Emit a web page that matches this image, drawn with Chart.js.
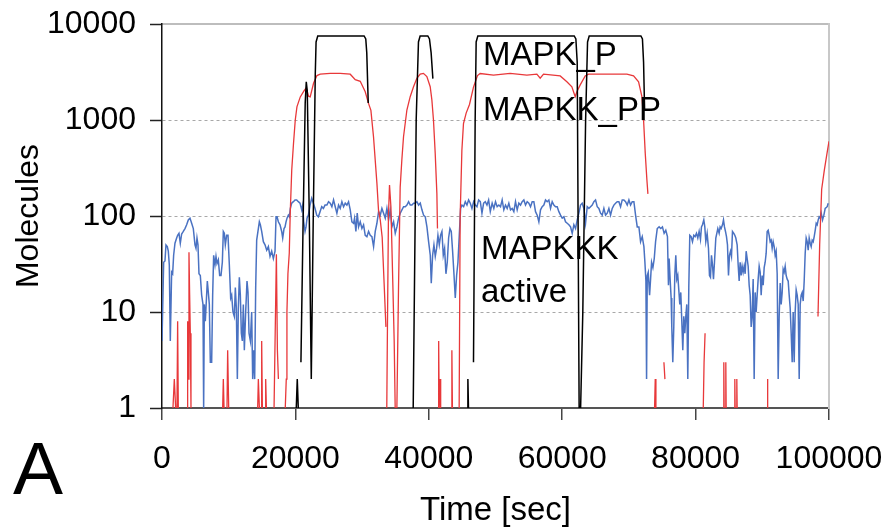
<!DOCTYPE html>
<html>
<head>
<meta charset="utf-8">
<title>MAPK cascade simulation</title>
<script src="https://cdn.jsdelivr.net/npm/chart.js@4.4.1/dist/chart.umd.min.js"></script>
<style>
    html, body { margin: 0; padding: 0; background: #fff; }
    #wrap { position: relative; width: 888px; height: 529px; }
</style>
</head>
<body>
<div id="wrap"><canvas id="mapkChart"></canvas></div>
<script>
/* Axis ticks */

const xTicks = [0, 20000, 40000, 60000, 80000, 100000];
const yTicks = [1, 10, 100, 1000, 10000];

/* MAPK_P (black) - null = zero molecules, not drawn on log axis */

const mapkPTime = [
    20130, 20280, 20430, 20600,
    20830, 21170, 21470, 21630, 21780, 22080, 22380, 22680, 22980, 23100, 23350, 30300, 30550, 30700, 30920, 31000,
    37660, 37810, 38110, 38450, 38700, 39850, 40100, 40350, 40610, 40700,
    45750, 45860, 45950, 46300,
    46700, 46950, 47100, 47350, 61800, 62050, 62250, 62540, 62760, 63090, 63510, 63800, 64050, 71800, 72030, 72200, 72350, 72450
];
const mapkPValues = [
    1, 2, 1, null,
    3, 100, 1500, 2500, 2000, 100, 2, 100, 3000, 6500, 7500, 7500, 7000, 5000, 1500, null,
    1, 10, 1000, 6500, 7500, 7500, 7000, 5000, 2700, null,
    1, 2, 1, null,
    3, 1000, 6500, 7500, 7500, 7000, 4000, 1, 1, 10, 1000, 6500, 7500, 7500, 7000, 4000, 1300, null
];

/* MAPKK_PP (red) */

const mapkkPPTime = [
    1645, 1845, 2045, 2150, 2245, 2345, 2445, 2500,
    3795, 3845, 3945, 4045, 4145, 4245, 4345, 4400,
    9095, 9195, 9300, 9400, 9745, 9845, 10000, 10100,
    14345, 14445, 14600, 14700, 14880, 14945, 15050, 15200, 15470, 15545, 15650, 15750,
    16800, 17150, 17300, 17450, 17500,
    18480, 18630, 18730, 18880, 19080, 19230, 19450, 19720, 19980, 20230,
    20730, 21330, 21630, 21970, 22220, 22720, 23230, 23720, 25220, 26720,
    28220, 28970, 29720, 30470, 30960, 31320, 31710, 32220, 32460, 32720,
    33010, 33300, 33570, 33650,
    33700, 33800, 33950, 34110, 34320, 34620, 34810, 34960, 35215, 35460,
    35710, 35960, 36210, 36715, 37210, 37710, 38210, 38710, 39200, 39710,
    40210, 40460, 40700, 40960, 41210, 41300, 41350,
    41400, 41480, 41560, 41650, 41700, 41780, 41850,
    43380, 43460, 43540, 43600,
    44550, 44700, 44960, 45200, 45600, 46100, 46700, 47300, 47700, 49700,
    52200, 54700, 56200, 56700, 57200, 59700, 60700, 61450, 61950, 62200,
    62700, 63450, 63950, 67200, 69700, 70700, 71450, 71950, 72200, 72450,
    72700, 72850, 72900,
    73850, 73950, 74050, 74100,
    75250, 75400, 75450,
    81150, 81270, 81420, 81450,
    84180, 84230, 84280, 84380, 84480, 84530, 84580, 84650,
    85830, 85880, 85930, 86000, 86130, 86180, 86230, 86300,
    90730, 90780, 90830, 90900,
    98350, 98600, 98900, 99300, 99700, 100000
];
const mapkkPPValues = [
    1, 2, 1, null, 1, 8, 1, null,
    1, 8, 2, 42, 15, 6, 1, null,
    1, 2, 1, null, 1, 4, 1, null,
    1, 2, 1, null, 1, 5, 1, null, 1, 2, 1, null,
    1, 40, 4, 2, null,
    1, 2, 10, 25, 41, 110, 300, 575, 1000, 1370,
    1740, 2030, 2160, 1770, 1740, 2410, 2900, 3000, 3060, 3060,
    3000, 2630, 2530, 1970, 1490, 1260, 670, 220, 115, 91,
    60, 20, 7, null,
    1, 7, 100, 210, 125, 18, 5, 1, 1, 18,
    200, 385, 670, 1270, 1750, 2220, 2720, 3000, 3060, 2830,
    2220, 1620, 1000, 450, 172, 74, null,
    1, 5, 1, 1, 2, 1, null,
    1, 4, 1, null,
    1, 98, 485, 920, 1180, 1450, 2200, 2900, 3050, 2940,
    3060, 2940, 3000, 2720, 3000, 2880, 2500, 2220, 1750, 1970,
    2320, 2880, 3000, 3000, 3000, 2880, 2500, 1750, 1000, 450,
    237, 170, null,
    1, 2, 1, null,
    3, 2, null,
    1, 3, 6, null,
    1, 3, 1, null, 1, 3, 1, null,
    1, 2, 1, null, 1, 2, 1, null,
    1, 2, 1, null,
    9, 50, 190, 300, 450, 600
];

/* MAPKKK active (blue) */

const mapkkkTime = [
    0, 250, 445, 595, 795, 945, 1095, 1245, 1445, 1595,
    1745, 1945, 2195, 2345, 2545, 2745, 2945, 3195, 3445, 3695,
    3945, 4195, 4445, 4695, 4945, 5095, 5245, 5395, 5545, 5745,
    5945, 6145, 6245, 6345, 6495, 6645, 6795, 6945, 7095, 7245,
    7445, 7595, 7745, 7945, 8095, 8245, 8445, 8645, 8845, 9045,
    9195, 9345, 9495, 9695, 9895, 10095, 10295, 10445, 10645, 10845,
    10995, 11145, 11295, 11445, 11595, 11745, 11895, 12045, 12195, 12345,
    12545, 12745, 12895, 13045, 13245, 13445, 13595, 13745, 13895, 14045,
    14195, 14445, 14595, 14745, 14945, 15195, 15445, 15695, 15945, 16195,
    16445, 16695, 16945, 17095, 17245, 17445, 17695, 17945, 18095, 18295,
    18445, 18595, 18745, 18945, 19095, 19245, 19445, 19695, 19945, 20195,
    20445, 20695, 20945, 21095, 21245, 21445, 21595, 21745, 21945, 22195,
    22445, 22695, 22945, 23195, 23445, 23695, 23945, 24195, 24445,
    24720, 24970, 25220, 25470, 25720, 25970, 26220, 26470, 26720, 26970,
    27220, 27470, 27720, 27970, 28220, 28470, 28720, 28870, 29070, 29270,
    29470, 29720, 29970, 30220, 30470, 30720, 30970, 31220, 31470, 31720,
    31970, 32220, 32470, 32720, 32970, 33220, 33470, 33720, 33970, 34220,
    34470, 34720, 34970, 35220, 35470, 35720, 35970, 36220, 36470, 36720,
    36970, 37220, 37470, 37720, 37970, 38220, 38470, 38720, 38970, 39220,
    39470, 39720, 39970, 40220, 40370, 40570, 40770, 40970, 41170, 41370,
    41570, 41770, 41970, 42170, 42370, 42570, 42770, 42970, 43170, 43370,
    43570, 43770, 43970, 44170, 44370, 44570, 44770, 44970, 45220, 45470,
    45720, 45970, 46220, 46470, 46720, 46970, 47220, 47470, 47720, 47970,
    48220, 48470, 48720, 48970, 49220,
    49500, 49750, 50000, 50250, 50500, 50750, 51000, 51250, 51500, 51750,
    52000, 52250, 52500, 52750, 53000, 53250, 53500, 53750, 54000, 54250,
    54500, 54750, 55000, 55250, 55500, 55750, 56000, 56250, 56500, 56750,
    57000, 57250, 57500, 57750, 58000, 58250, 58500, 58750, 59000, 59250,
    59500, 59750, 60000, 60250, 60500, 60750, 61000, 61250, 61500, 61750,
    62000, 62250, 62500, 62750, 63000, 63250, 63500, 63750, 64000, 64250,
    64500, 64750, 65000, 65250, 65500, 65750, 66000, 66250, 66500, 66750,
    67000, 67250, 67500, 67750, 68000, 68250, 68500, 68750, 69000, 69250,
    69500, 69750, 70000, 70250, 70500, 70750, 71000, 71250, 71500, 71750,
    72000, 72250, 72400, 72550, 72650, 72750, 72900, 73100, 73250, 73400,
    73600, 73800, 74000, 74250,
    74530, 74780, 75030, 75280, 75530, 75780, 75930, 76030, 76180, 76330,
    76430, 76580, 76730, 76880, 77030, 77180, 77330, 77480, 77630, 77780,
    77930, 78080, 78230, 78380, 78530, 78680, 78830, 78980, 79130, 79330,
    79530, 79730, 79930, 80130, 80330, 80530, 80730, 80880, 81030, 81230,
    81380, 81530, 81730, 81930, 82080, 82230, 82380, 82530, 82680, 82830,
    83030, 83180, 83330, 83530, 83680, 83830, 84030, 84180, 84330, 84480,
    84630, 84780, 84930, 85080, 85230, 85380, 85530, 85730, 85880, 86030,
    86230, 86380, 86530, 86680, 86830, 86980, 87130, 87280, 87430, 87580,
    87730, 87880, 88030, 88180, 88330, 88480, 88630, 88780, 88930, 89080,
    89230, 89380, 89530, 89680, 89830, 89980, 90130, 90280, 90430, 90580,
    90730, 90880, 91030, 91180, 91330, 91480, 91630, 91780, 91930, 92080,
    92230, 92380, 92530, 92680, 92830, 92980, 93130, 93280, 93430, 93580,
    93730, 93880, 94030, 94180, 94330, 94480, 94630, 94780, 94930, 95080,
    95230, 95380, 95530, 95680, 95830, 95980, 96130, 96280, 96430, 96580,
    96730, 96880, 97030, 97180, 97330, 97480, 97630, 97780, 97930, 98080,
    98230, 98380, 98530, 98680, 98830, 99030, 99230, 99430, 99730, 99880
];
const mapkkkValues = [
    5, 33, 34, 50, 48, 43, 31, 5, 26, 25,
    39, 52, 59, 63, 66, 52, 65, 69, 74, 81,
    91, 95, 84, 74, 50, 46, 59, 50, 25, 24,
    15, 12, 1, 12, 8, 13, 21, 16, 12, 3,
    3, 15, 39, 31, 38, 32, 35, 24, 24, 33,
    69, 66, 50, 63, 63, 31, 14, 15, 10, 9,
    18, 11, 2, 11, 23, 15, 6, 5, 12, 4,
    10, 21, 16, 6, 5, 10, 2, 4, 2, 18,
    56, 74, 87, 81, 69, 54, 50, 44, 48, 38,
    43, 36, 43, 98, 98, 87, 81, 69, 59, 74,
    77, 87, 95, 102, 98, 120, 136, 141, 147, 147,
    141, 136, 116, 130, 87, 69, 77, 95, 102, 130,
    153, 136, 120, 102, 98, 111, 125, 120, 130,
    130, 141, 136, 125, 147, 125, 107, 130, 120, 141,
    125, 136, 130, 141, 116, 87, 84, 95, 69, 107,
    77, 87, 74, 81, 63, 61, 69, 63, 61, 48,
    69, 84, 111, 102, 120, 107, 95, 120, 91, 116,
    77, 87, 66, 77, 95, 107, 116, 125, 125, 130,
    141, 130, 130, 136, 136, 141, 130, 136, 116, 102,
    98, 77, 54, 39, 20, 39, 50, 38, 46, 63,
    50, 63, 69, 39, 46, 25, 33, 59, 74, 69,
    43, 25, 14, 24, 33, 63, 120, 130, 125, 141,
    130, 147, 136, 120, 141, 130, 125, 147, 141, 107,
    136, 141, 130, 147, 111,
    136, 120, 141, 125, 130, 125, 147, 116, 130, 120,
    136, 116, 120, 111, 141, 116, 136, 130, 141, 147,
    130, 141, 136, 125, 141, 141, 111, 102, 87, 116,
    125, 130, 147, 141, 147, 120, 141, 130, 125, 125,
    111, 102, 95, 98, 87, 84, 81, 77, 66, 81,
    74, 91, 107, 130, 136, 120, 84, 125, 120, 125,
    130, 141, 147, 125, 120, 107, 102, 120, 102, 107,
    120, 102, 120, 130, 136, 141, 141, 125, 147, 147,
    141, 130, 147, 130, 141, 141, 102, 77, 77, 54,
    61, 48, 33, 21, 2, 24, 26, 15, 22, 33,
    29, 36, 54, 74,
    77, 74, 77, 66, 71, 61, 19, 36, 22, 14,
    7, 3, 7, 24, 39, 22, 24, 17, 12, 16,
    8, 4, 9, 6, 9, 12, 2, 18, 63, 61,
    54, 63, 61, 66, 59, 69, 57, 77, 81, 91,
    77, 54, 66, 46, 24, 23, 39, 31, 22, 33,
    59, 66, 74, 66, 77, 74, 81, 91, 77, 69,
    61, 50, 24, 39, 43, 38, 69, 66, 63, 59,
    50, 31, 21, 33, 24, 30, 26, 30, 25, 43,
    36, 30, 19, 15, 7, 9, 22, 2, 16, 10,
    15, 22, 30, 26, 15, 24, 19, 29, 33, 41,
    69, 71, 63, 54, 56, 46, 54, 48, 39, 43,
    25, 2, 9, 20, 12, 16, 28, 26, 30, 24,
    22, 21, 15, 11, 6, 3, 10, 3, 10, 17,
    15, 12, 2, 12, 15, 16, 13, 21, 41, 59,
    54, 44, 59, 52, 48, 56, 54, 61, 71, 84,
    81, 91, 98, 95, 107, 91, 102, 120, 125, 136
];

/* Labels */

const fontFamily = '"Liberation Sans", Arial, Helvetica, sans-serif';

const textLabels = [
    { text: "MAPK_P", x: 483, y: 65, size: 33 },
    { text: "MAPKK_PP", x: 483, y: 120, size: 33 },
    { text: "MAPKKK", x: 481, y: 259, size: 33 },
    { text: "active", x: 481, y: 302, size: 33 },
    { text: "A", x: 13, y: 494, size: 75 }
];

const toPoints = (times, values) =>
    times.map((t, i) => ({ x: t, y: values[i] }));

const labelPlugin = {
    id: "seriesLabels",
    afterDraw(chart) {
        const ctx = chart.ctx;
        ctx.save();
        ctx.fillStyle = "#000";
        ctx.textAlign = "left";
        ctx.textBaseline = "alphabetic";
        textLabels.forEach(label => {
            ctx.font = `${label.size}px ${fontFamily}`;
            ctx.fillText(label.text, label.x, label.y);
        });
        ctx.restore();
    }
};

Chart.defaults.font.family = fontFamily;
Chart.defaults.color = "#000";

new Chart(document.querySelector("#mapkChart"), {
    type: "line",
    data: {
        datasets: [
            {
                label: "MAPK_P",
                data: toPoints(mapkPTime, mapkPValues),
                borderColor: "#000",
                borderWidth: 1.5
            },
            {
                label: "MAPKK_PP",
                data: toPoints(mapkkPPTime, mapkkPPValues),
                borderColor: "#e8383a",
                borderWidth: 1.3
            },
            {
                label: "MAPKKK active",
                data: toPoints(mapkkkTime, mapkkkValues),
                borderColor: "#4a72c2",
                borderWidth: 1.5
            }
        ]
    },
    options: {
        responsive: true,
        maintainAspectRatio: false,
        animation: false,
        devicePixelRatio: 1,
        spanGaps: false,
        elements: {
            point: { radius: 0, hoverRadius: 0 },
            line: { tension: 0 }
        },
        layout: {
            padding: { top: 24, right: 59, left: 0, bottom: 0 }
        },
        plugins: {
            legend: { display: false },
            tooltip: { enabled: false }
        },
        scales: {
            x: {
                type: "linear",
                position: "bottom",
                min: 0,
                max: 100000,
                afterBuildTicks: axis => {
                    axis.ticks = xTicks.map(v => ({ value: v }));
                },
                afterFit: axis => {
                    axis.height = 121;
                    axis.paddingLeft = 0;
                    axis.paddingRight = 0;
                },
                ticks: {
                    font: { size: 32 },
                    padding: 20,
                    maxRotation: 0,
                    callback: value => String(value)
                },
                grid: {
                    drawOnChartArea: false,
                    tickLength: 12,
                    tickColor: "#444",
                    lineWidth: 1.5
                },
                border: { color: "#555", width: 2 },
                title: {
                    display: true,
                    text: "Time [sec]",
                    font: { size: 33, lineHeight: 1 },
                    padding: { top: 0, bottom: 2 }
                }
            },
            xTop: {
                type: "linear",
                position: "top",
                afterFit: axis => {
                    axis.height = 0;
                    axis.paddingLeft = 0;
                    axis.paddingRight = 0;
                },
                ticks: { display: false },
                grid: { display: false, drawTicks: false },
                border: { color: "#bdbdbd", width: 2 }
            },
            y: {
                type: "logarithmic",
                position: "left",
                min: 1,
                max: 10000,
                afterBuildTicks: axis => {
                    axis.ticks = yTicks.map(v => ({ value: v }));
                },
                afterFit: axis => {
                    axis.width = 162;
                    axis.paddingTop = 0;
                    axis.paddingBottom = 0;
                },
                ticks: {
                    font: { size: 32 },
                    padding: 14,
                    callback: value => String(value)
                },
                grid: {
                    color: ctx =>
                        ctx.tick && (ctx.tick.value === 1 || ctx.tick.value === 10000)
                            ? "rgba(0,0,0,0)"
                            : "#a8a8a8",
                    lineWidth: 1,
                    tickLength: 12,
                    tickColor: "#222",
                    tickWidth: 1.5
                },
                border: { color: "#111", width: 1.5, dash: [3, 3] },
                title: {
                    display: true,
                    text: "Molecules",
                    font: { size: 32, lineHeight: 1 },
                    padding: { top: 13, bottom: 0 }
                }
            },
            yRight: {
                type: "linear",
                position: "right",
                afterFit: axis => {
                    axis.width = 0;
                    axis.paddingTop = 0;
                    axis.paddingBottom = 0;
                },
                ticks: { display: false },
                grid: { display: false, drawTicks: false },
                border: { color: "#c8c8c8", width: 2 }
            }
        }
    },
    plugins: [labelPlugin]
});
</script>
</body>
</html>
